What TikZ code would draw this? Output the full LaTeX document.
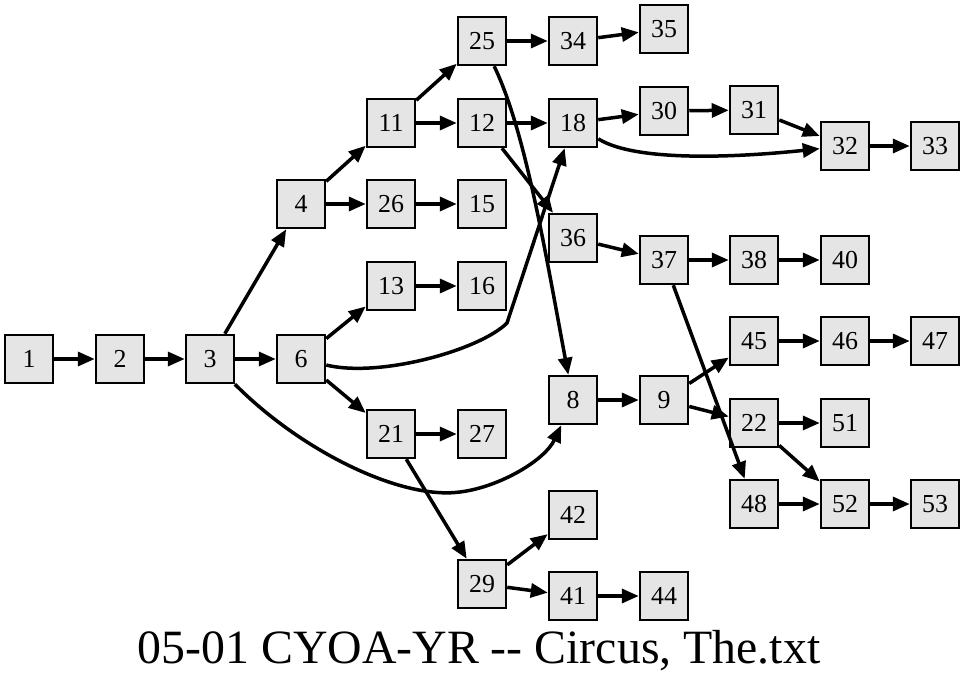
\documentclass[tikz,border=0pt]{standalone}
\usepackage{fontspec}
\setmainfont{Liberation Serif}
\usetikzlibrary{arrows.meta}

\tikzset{
  page/.style={draw=black, fill=black!10, line width=2.5bp, minimum size=48bp, inner sep=0pt, font=\fontsize{26}{28}\selectfont},
  link/.style={line width=3.5bp, -{Triangle[length=17bp,width=14bp]}}
}

\begin{document}
\begin{tikzpicture}[x=1bp,y=-1bp]
\useasboundingbox (0,0) rectangle (965,684);

\node[page] (n1) at (29,359) {1};
\node[page] (n2) at (120,359) {2};
\node[page] (n3) at (210,359) {3};
\node[page] (n4) at (301,204) {4};
\node[page] (n6) at (301,359) {6};
\node[page] (n11) at (391,123) {11};
\node[page] (n26) at (391,204) {26};
\node[page] (n13) at (391,286) {13};
\node[page] (n21) at (391,434) {21};
\node[page] (n25) at (482,41) {25};
\node[page] (n12) at (482,123) {12};
\node[page] (n15) at (482,204) {15};
\node[page] (n16) at (482,286) {16};
\node[page] (n27) at (482,434) {27};
\node[page] (n29) at (482,584) {29};
\node[page] (n34) at (573,41) {34};
\node[page] (n18) at (573,123) {18};
\node[page] (n36) at (573,238) {36};
\node[page] (n8) at (573,400) {8};
\node[page] (n42) at (573,515) {42};
\node[page] (n41) at (573,596) {41};
\node[page] (n35) at (664,29) {35};
\node[page] (n30) at (664,111) {30};
\node[page] (n37) at (664,260) {37};
\node[page] (n9) at (664,400) {9};
\node[page] (n44) at (664,596) {44};
\node[page] (n31) at (754,110) {31};
\node[page] (n38) at (754,260) {38};
\node[page] (n45) at (754,341) {45};
\node[page] (n22) at (754,423) {22};
\node[page] (n48) at (754,504) {48};
\node[page] (n32) at (845,146) {32};
\node[page] (n40) at (845,260) {40};
\node[page] (n46) at (845,341) {46};
\node[page] (n51) at (845,423) {51};
\node[page] (n52) at (845,504) {52};
\node[page] (n33) at (935,146) {33};
\node[page] (n47) at (935,341) {47};
\node[page] (n53) at (935,504) {53};

\draw[link] (n1) -- (n2);
\draw[link] (n2) -- (n3);
\draw[link] (n3) -- (n4);
\draw[link] (n3) -- (n6);
\draw[link] (n3) .. controls (300,450) and (400,500) .. (460,492) .. controls (500,487) and (545,460) .. (n8);
\draw[link] (n4) -- (n11);
\draw[link] (n4) -- (n26);
\draw[link] (n6) -- (n13);
\draw[link] (n6) -- (n21);
\draw[link] (n6) .. controls (380,378) and (480,350) .. (507,323) -- (n18);
\draw[link] (n11) -- (n25);
\draw[link] (n11) -- (n12);
\draw[link] (n26) -- (n15);
\draw[link] (n13) -- (n16);
\draw[link] (n21) -- (n27);
\draw[link] (n21) -- (n29);
\draw[link] (n25) -- (n34);
\draw[link] (n25) .. controls (525,130) and (545,250) .. (n8);
\draw[link] (n12) -- (n18);
\draw[link] (n12) -- (n36);
\draw[link] (n34) -- (n35);
\draw[link] (n18) -- (n30);
\draw[link] (n18) .. controls (640,165) and (760,155) .. (n32);
\draw[link] (n30) -- (n31);
\draw[link] (n31) -- (n32);
\draw[link] (n32) -- (n33);
\draw[link] (n36) -- (n37);
\draw[link] (n37) -- (n38);
\draw[link] (n37) -- (n48);
\draw[link] (n38) -- (n40);
\draw[link] (n8) -- (n9);
\draw[link] (n9) -- (n45);
\draw[link] (n9) -- (n22);
\draw[link] (n45) -- (n46);
\draw[link] (n46) -- (n47);
\draw[link] (n22) -- (n51);
\draw[link] (n22) -- (n52);
\draw[link] (n48) -- (n52);
\draw[link] (n52) -- (n53);
\draw[link] (n29) -- (n42);
\draw[link] (n29) -- (n41);
\draw[link] (n41) -- (n44);

\node[anchor=base, font=\fontsize{48}{50}\selectfont] (title) at (479,663) {05-01 CYOA-YR -\kern0pt- Circus, The.txt};
\end{tikzpicture}
\end{document}
